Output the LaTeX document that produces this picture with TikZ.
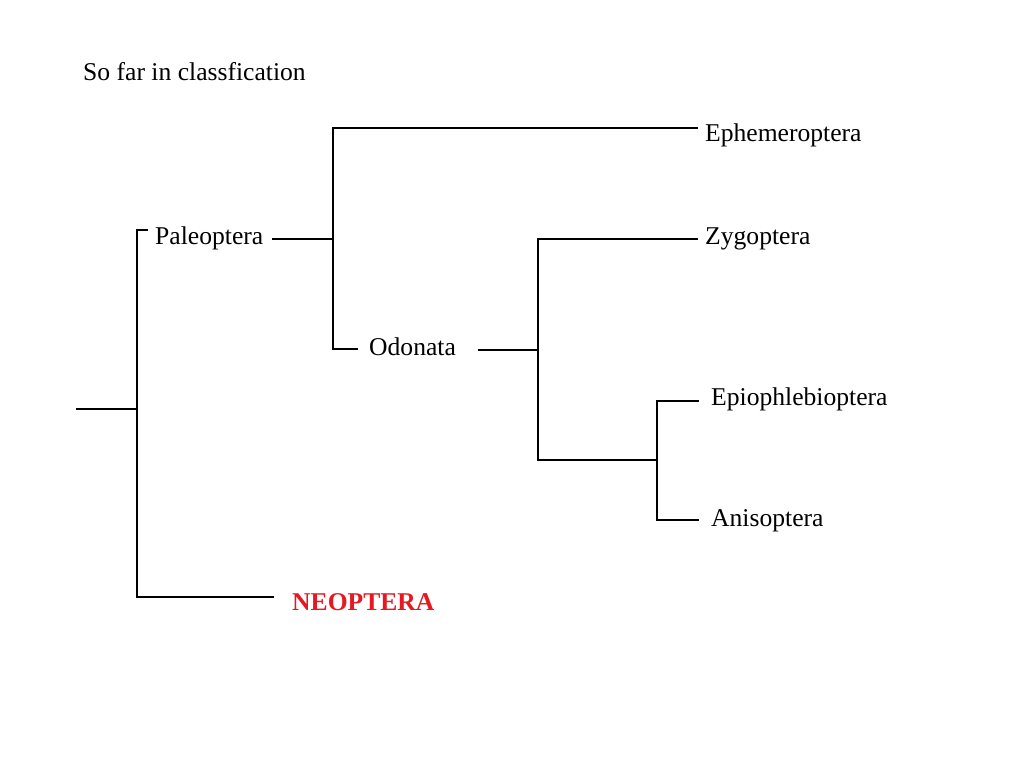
\documentclass[tikz,border=0pt]{standalone}
\usepackage{fontspec}
\setmainfont{Liberation Serif}
\begin{document}
\begin{tikzpicture}[x=1pt,y=-1pt,
  lbl/.style={anchor=base west,inner sep=0pt,font=\fontsize{25.6}{30}\selectfont},
  red lbl/.style={lbl,text={rgb,255:red,230;green,25;blue,35},font=\fontsize{25.6}{30}\selectfont\bfseries},
  branch/.style={line width=2.2pt,line cap=rect}]
\useasboundingbox (0,0) rectangle (1024,768);
% labels
\node[lbl] (title) at (83,80) {So far in classfication};
\node[lbl] (pal) at (155,244) {Paleoptera};
\node[lbl] (eph) at (705,141) {Ephemeroptera};
\node[lbl] (odo) at (369,355) {Odonata};
\node[lbl] (zyg) at (705,244) {Zygoptera};
\node[lbl] (epi) at (711,405) {Epiophlebioptera};
\node[lbl] (ani) at (711,526) {Anisoptera};
\node[red lbl] (neo) at (292,610) {NEOPTERA};
% junction coordinates
\coordinate (root) at (77,409);
\coordinate (j1) at (137,409);
\coordinate (j1t) at (137,230);
\coordinate (j1b) at (137,597);
\coordinate (palend) at (147,230);
\coordinate (neoend) at (273,597);
\coordinate (paleo) at (273,239);
\coordinate (j2) at (333,239);
\coordinate (j2t) at (333,128);
\coordinate (j2b) at (333,349);
\coordinate (ephend) at (697,128);
\coordinate (odoend) at (357,349);
\coordinate (odo2) at (479,350);
\coordinate (j3) at (538,350);
\coordinate (j3t) at (538,239);
\coordinate (j3b) at (538,460);
\coordinate (zygend) at (697,239);
\coordinate (j4) at (657,460);
\coordinate (j4t) at (657,401);
\coordinate (j4b) at (657,520);
\coordinate (epiend) at (698,401);
\coordinate (aniend) at (698,520);
% branches
\draw[branch] (root) -- (j1);
\draw[branch] (palend) -- (j1t) -- (j1b) -- (neoend);
\draw[branch] (paleo) -- (j2);
\draw[branch] (ephend) -- (j2t) -- (j2b) -- (odoend);
\draw[branch] (odo2) -- (j3);
\draw[branch] (zygend) -- (j3t) -- (j3b) -- (j4);
\draw[branch] (epiend) -- (j4t) -- (j4b) -- (aniend);
\end{tikzpicture}
\end{document}
